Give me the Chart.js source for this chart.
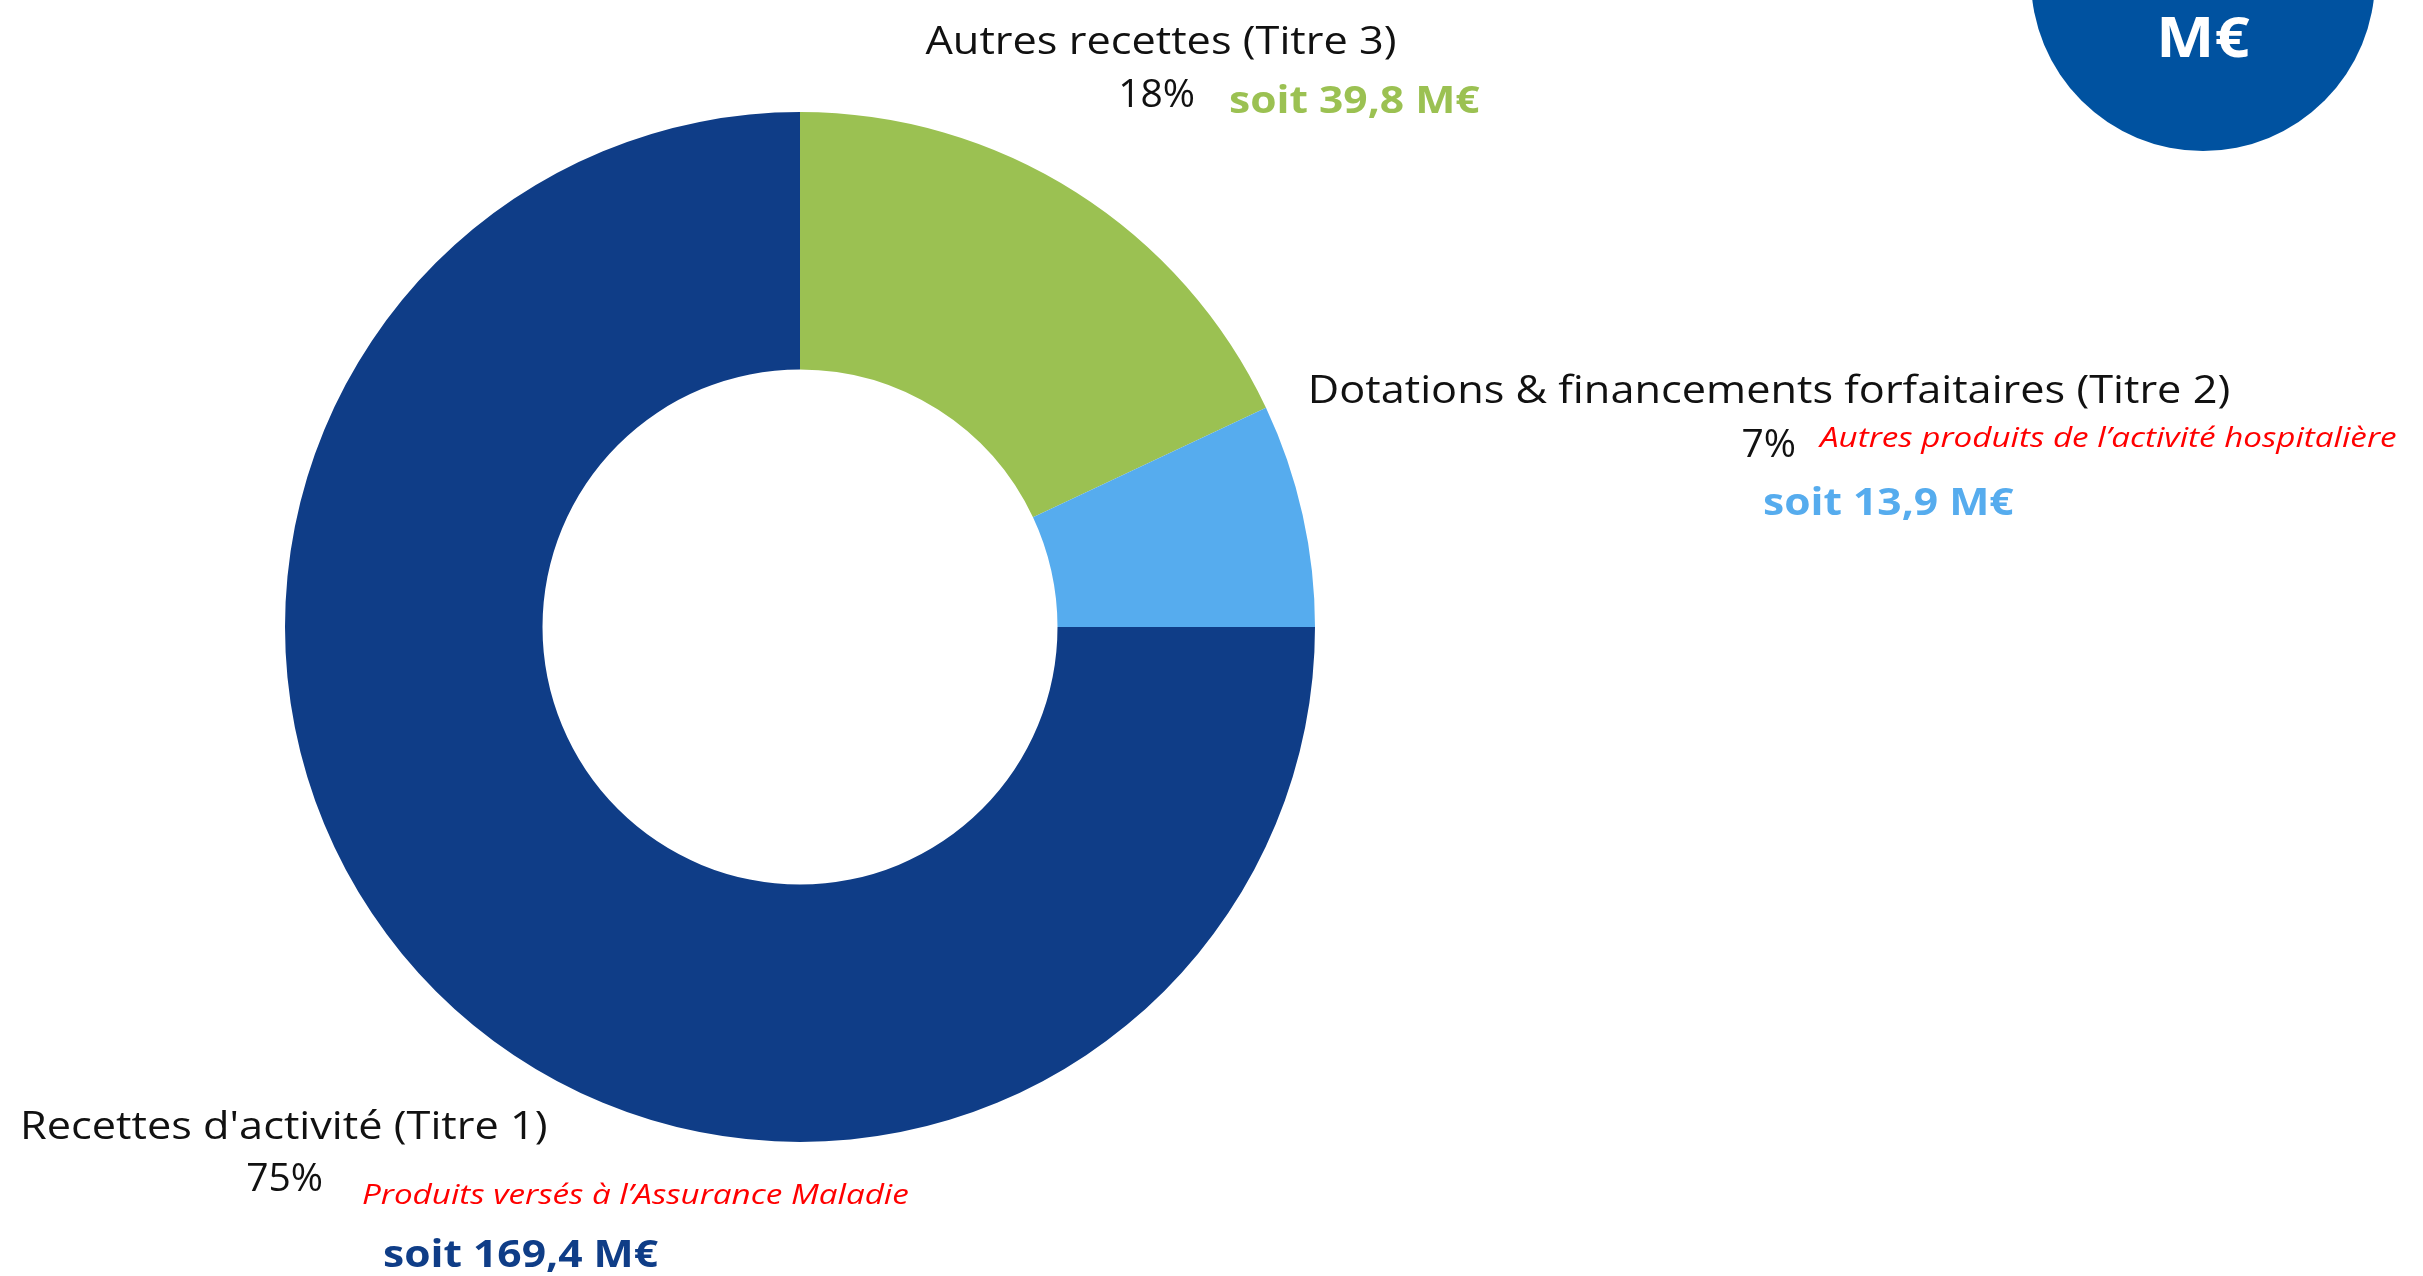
<!DOCTYPE html>
<html lang="fr">
<head>
<meta charset="utf-8">
<script src="https://cdn.jsdelivr.net/npm/chart.js@4.4.1/dist/chart.umd.min.js"></script>
<style>
    html, body { margin: 0; padding: 0; background: #fff; overflow: hidden; }
    #wrap { position: relative; width: 2423px; height: 1276px; }
</style>
</head>
<body>
<div id="wrap"><canvas id="recettesChart"></canvas></div>
<script>
// Répartition des recettes (Titres 1 à 3)
const categories = ['Autres recettes (Titre 3)', 'Dotations & financements forfaitaires (Titre 2)', "Recettes d'activité (Titre 1)"];
const shares = [18, 7, 75];
const amounts = ['39,8', '13,9', '169,4'];
const notes = ['', 'Autres produits de l\u2019activité hospitalière', 'Produits versés à l\u2019Assurance Maladie'];
const colors = ['#9bc152', '#56acee', '#0f3d87'];
const unitBadge = 'M€';

const FONT = "'Open Sans', 'DejaVu Sans', sans-serif";

// label placement, offsets from the doughnut centre
const labelLayout = [
    { title: [361, -573, 'center'], pct: [395, -520], note: null, amount: [429, -514] },
    { title: [969, -224, 'center'], pct: [996, -170], note: [1020, -180], amount: [963, -112] },
    { title: [-780, 512, 'left'], pct: [-477, 564], note: [-438, 577], amount: [-417, 640] }
];

// Open Sans is narrower than the original font, stretch a bit
function drawText(ctx, text, x, y, align, sx) {
    ctx.save();
    ctx.translate(x, y);
    ctx.scale(sx, 1);
    ctx.textAlign = align;
    ctx.fillText(text, 0, 0);
    ctx.restore();
}

const labelsPlugin = {
    id: 'sliceLabels',
    afterDraw(chart) {
        const ctx = chart.ctx;
        const arc = chart.getDatasetMeta(0).data[0];
        const cx = arc.x, cy = arc.y;
        ctx.save();
        ctx.textBaseline = 'alphabetic';
        categories.forEach((cat, i) => {
            const l = labelLayout[i];
            ctx.fillStyle = '#111';
            ctx.font = '39px ' + FONT;
            drawText(ctx, cat, cx + l.title[0], cy + l.title[1], l.title[2], 1.11);
            drawText(ctx, shares[i] + '%', cx + l.pct[0], cy + l.pct[1], 'right', 1);

            if (l.note && notes[i]) {
                ctx.fillStyle = '#ff0000';
                ctx.font = 'italic 27px ' + FONT;
                drawText(ctx, notes[i], cx + l.note[0], cy + l.note[1], 'left', 1.23);
            }

            ctx.fillStyle = colors[i];
            ctx.font = 'bold 38px ' + FONT;
            drawText(ctx, 'soit ' + amounts[i] + ' M€', cx + l.amount[0], cy + l.amount[1], 'left', 1.12);
        });

        // badge top right
        ctx.fillStyle = '#0052a0';
        ctx.beginPath();
        ctx.arc(2203, -21, 172, 0, Math.PI * 2);
        ctx.fill();
        ctx.fillStyle = '#fff';
        ctx.font = 'bold 56px ' + FONT;
        drawText(ctx, unitBadge, 2203, 57, 'center', 1.1);
        ctx.restore();
    }
};

document.addEventListener('DOMContentLoaded', () => {
    const chartCtx = document.getElementById('recettesChart');
    new Chart(chartCtx, {
        type: 'doughnut',
        data: {
            labels: categories,
            datasets: [{
                data: shares,
                backgroundColor: colors,
                borderWidth: 0,
                hoverOffset: 0
            }]
        },
        options: {
            responsive: true,
            maintainAspectRatio: false,
            animation: false,
            cutout: '50%',
            layout: {
                padding: { left: 285, right: 1108, top: 112, bottom: 134 }
            },
            plugins: {
                legend: { display: false },
                tooltip: { enabled: false }
            }
        },
        plugins: [labelsPlugin]
    });
});
</script>
</body>
</html>
